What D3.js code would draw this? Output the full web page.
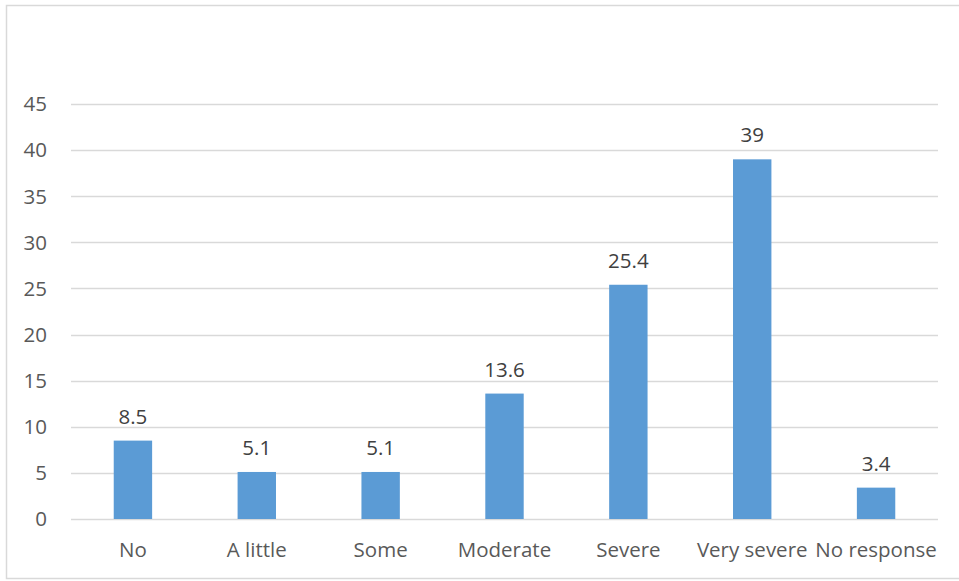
<!DOCTYPE html>
<html><head><meta charset="utf-8">
<script src="https://cdn.jsdelivr.net/npm/d3@7"></script>
<style>html,body{margin:0;padding:0;background:#fff;}</style>
</head><body>
<svg id="chart" width="959" height="581"></svg>
<script>
const categories = ["No","A little","Some","Moderate","Severe","Very severe","No response"];
const values = [8.5,5.1,5.1,13.6,25.4,39,3.4];
const yTicks = [0,5,10,15,20,25,30,35,40,45];

(function(){
const svg = d3.select("#chart");
const font = "'Open Sans', 'Liberation Sans', sans-serif";
const fs = 20.5;
svg.append("rect").attr("x",6.5).attr("y",5.5).attr("width",960).attr("height",573)
  .attr("fill","#fff").attr("stroke","#d9d9d9").attr("stroke-width",1.5);

const pLeft=71, pRight=938, pTop=104, pBottom=519;
const x = d3.scaleBand().domain(categories).range([pLeft,pRight]).paddingInner(0.69).paddingOuter(0.345);
const y = d3.scaleLinear().domain([0,45]).range([pBottom,pTop]);

const g = svg.append("g");
g.selectAll("line.grid").data(yTicks).join("line")
  .attr("x1",pLeft).attr("x2",pRight)
  .attr("y1",d=>Math.round(y(d))+0.5).attr("y2",d=>Math.round(y(d))+0.5)
  .attr("stroke","#d9d9d9").attr("stroke-width",1.3);

g.selectAll("text.yt").data(yTicks).join("text")
  .attr("x",47).attr("y",d=>y(d)).attr("dy","0.36em")
  .attr("text-anchor","end").attr("font-family",font).attr("font-size",fs)
  .attr("fill","#595959").text(d=>d);

g.selectAll("rect.bar").data(values).join("rect")
  .attr("x",(d,i)=>x(categories[i])).attr("width",x.bandwidth())
  .attr("y",d=>y(d)).attr("height",d=>y(0)-y(d))
  .attr("fill","#5b9bd5");

g.selectAll("text.val").data(values).join("text")
  .attr("x",(d,i)=>x(categories[i])+x.bandwidth()/2).attr("y",d=>y(d)-17)
  .attr("text-anchor","middle").attr("font-family",font).attr("font-size",fs)
  .attr("fill","#404040").text(d=>d);

g.selectAll("text.cat").data(categories).join("text")
  .attr("x",d=>x(d)+x.bandwidth()/2).attr("y",557)
  .attr("text-anchor","middle").attr("font-family",font).attr("font-size",fs)
  .attr("fill","#595959").text(d=>d);
})();
</script>
</body></html>
